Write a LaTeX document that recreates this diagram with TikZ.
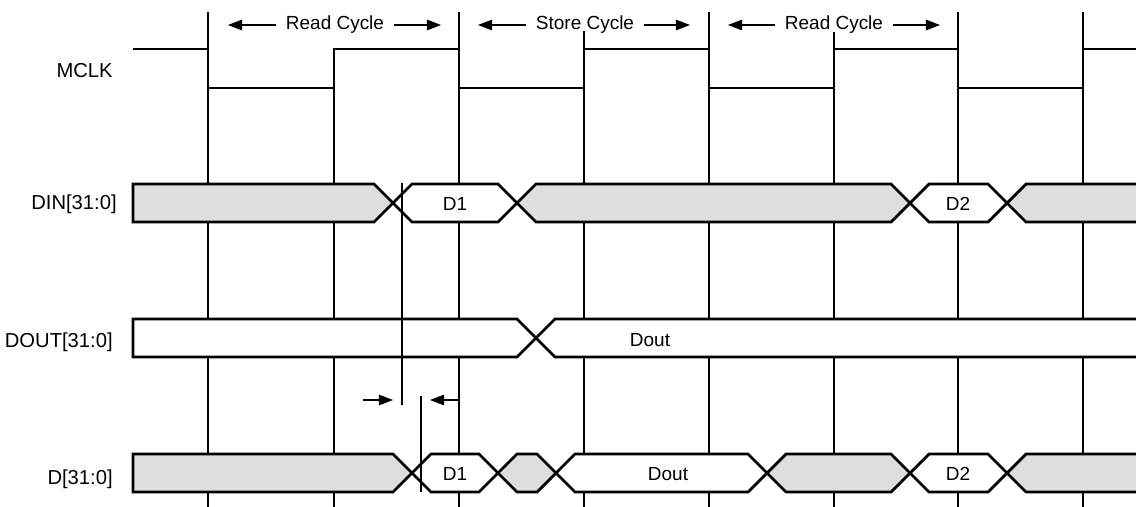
\documentclass[tikz,border=0pt]{standalone}
\usepackage{fontspec}
\setmainfont{Liberation Sans}
\usepackage{xcolor}
\usetikzlibrary{arrows.meta}
\definecolor{busgray}{HTML}{DEDEDE}

\begin{document}
\begin{tikzpicture}[
    x=0.02cm, y=-0.02cm,
    >={Triangle[length=8pt, width=6pt]},
    sig/.style={line width=1.6pt, line join=miter},
    bus/.style={sig, fill=#1},
    bus/.default=busgray,
    edgeline/.style={line width=0.65pt},
    lbl/.style={font=\fontsize{10.8}{12}\selectfont, inner sep=0pt},
    siglbl/.style={lbl, font=\fontsize{11.5}{13}\selectfont, anchor=base east},
    cyclbl/.style={lbl, inner xsep=5.6pt},
    cyc/.style={->, line width=0.65pt},
  ]
  \useasboundingbox (0,0) rectangle (1136,507);

  % Clock edge lines
  \foreach \x/\ytop in {208/12, 334/49, 459/12, 584/31, 709/12, 834/32, 958/12, 1083/12}
    \draw[edgeline] (\x,\ytop) -- (\x,507);

  % Cycle labels
  \node[cyclbl] (rc1) at (335,25) {Read Cycle};
  \node[cyclbl] (sc)  at (585,25) {Store Cycle};
  \node[cyclbl] (rc2) at (834,25) {Read Cycle};
  \coordinate (rc1l) at (228,25);  \coordinate (rc1r) at (441,25);
  \coordinate (scl)  at (478,25);  \coordinate (scr)  at (690,25);
  \coordinate (rc2l) at (728,25);  \coordinate (rc2r) at (940,25);
  \draw[cyc] (rc1) -- (rc1l);  \draw[cyc] (rc1) -- (rc1r);
  \draw[cyc] (sc) -- (scl);    \draw[cyc] (sc) -- (scr);
  \draw[cyc] (rc2) -- (rc2l);  \draw[cyc] (rc2) -- (rc2r);

  % Signal names
  \node[siglbl] (mclk) at (113,77)  {MCLK};
  \node[siglbl] (din)  at (117,209) {DIN[31:0]};
  \node[siglbl] (dout) at (113,347) {DOUT[31:0]};
  \node[siglbl] (dbus) at (113,484) {D[31:0]};

  % MCLK
  \draw[sig] (133,49) -| (208,88) -| (334,49) -| (459,88) -| (584,49)
    -| (709,88) -| (834,49) -| (958,88) -| (1083,49) -- (1140,49);

  % DIN[31:0]
  \draw[bus] (133,184) -- (374,184) -- (393,203) -- (374,222) -- (133,222) -- cycle;
  \foreach \xa/\xb/\c in {393/517/white, 517/910/busgray, 910/1007/white, 1007/1175/busgray}
    \draw[bus=\c] (\xa,203) -- (\xa+19,184) -- (\xb-19,184) -- (\xb,203)
      -- (\xb-19,222) -- (\xa+19,222) -- cycle;
  \node[lbl] (din1) at (455,204) {D1};
  \node[lbl] (din2) at (958,204) {D2};

  % DOUT[31:0]
  \draw[bus=white] (133,319) -- (517,319) -- (536,338) -- (517,357) -- (133,357) -- cycle;
  \foreach \xa/\xb/\c in {536/1175/white}
    \draw[bus=\c] (\xa,338) -- (\xa+19,319) -- (\xb-19,319) -- (\xb,338)
      -- (\xb-19,357) -- (\xa+19,357) -- cycle;
  \node[lbl] (doutv) at (650,340) {Dout};

  % D[31:0]
  \draw[bus] (133,454) -- (393,454) -- (412,473) -- (393,492) -- (133,492) -- cycle;
  \foreach \xa/\xb/\c in {412/498/white, 498/556/busgray, 556/767/white,
                          767/910/busgray, 910/1007/white, 1007/1175/busgray}
    \draw[bus=\c] (\xa,473) -- (\xa+19,454) -- (\xb-19,454) -- (\xb,473)
      -- (\xb-19,492) -- (\xa+19,492) -- cycle;
  \node[lbl] (d1) at (455,474) {D1};
  \node[lbl] (dv) at (668,474) {Dout};
  \node[lbl] (d2) at (958,474) {D2};

  % Delay markers
  \draw[edgeline] (402,183) -- (402,405);
  \draw[edgeline] (421,396) -- (421,492);
  \coordinate (ta) at (363,400);  \coordinate (tb) at (393,400);
  \coordinate (tc) at (459,400);  \coordinate (td) at (430,400);
  \draw[cyc] (ta) -- (tb);
  \draw[cyc] (tc) -- (td);
\end{tikzpicture}
\end{document}
